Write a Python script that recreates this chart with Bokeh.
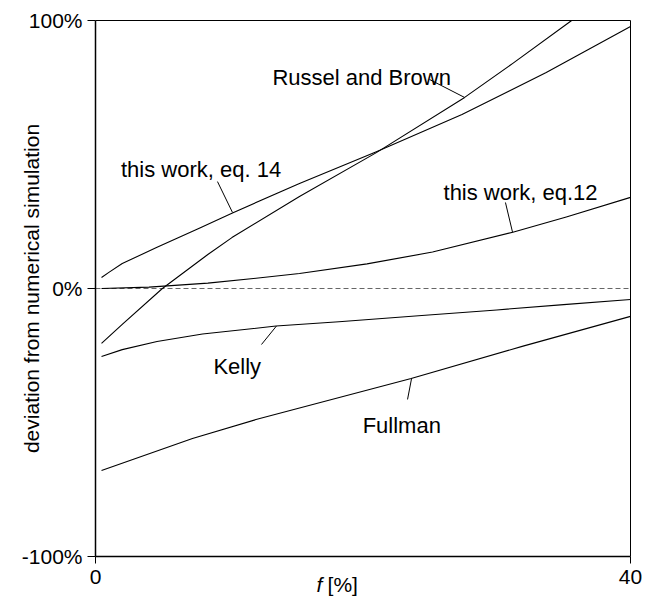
import math
from bokeh.plotting import figure
from bokeh.models import (Range1d, FixedTicker, PrintfTickFormatter, Label, LinearAxis,
                          ColumnDataSource)
from bokeh.embed import file_html
from bokeh.resources import INLINE

# ---- data (f in %, deviation in %) ----
rb_x = [0.45, 2.0, 5.0, 8.4, 10.2, 15.25, 21.0, 27.6, 31.2, 35.6]
rb_y = [-20.5, -13.4, 0.0, 12.7, 19.0, 34.3, 50.7, 71.3, 84.0, 100.0]

eq14_x = [0.45, 1.0, 2.0, 4.56, 7.8, 10.24, 15.25, 21.0, 27.4, 33.7, 40.0]
eq14_y = [4.1, 6.0, 9.3, 15.3, 22.6, 28.2, 39.2, 51.0, 64.9, 80.6, 97.8]

eq12_x = [0.45, 4.0, 8.4, 12.0, 15.25, 20.3, 25.2, 31.2, 35.2, 40.0]
eq12_y = [0.0, 0.5, 2.0, 3.8, 5.6, 9.2, 13.6, 21.0, 26.7, 34.0]

kelly_x = [0.45, 2.0, 4.6, 8.0, 13.5, 18.2, 24.4, 30.0, 35.0, 40.0]
kelly_y = [-25.4, -22.8, -19.8, -17.0, -14.0, -12.4, -10.1, -8.0, -6.0, -4.1]

fullman_x = [0.45, 7.25, 12.0, 23.6, 31.9, 40.0]
fullman_y = [-67.9, -56.0, -48.9, -33.6, -21.6, -10.4]

zero_x = [0, 40]
zero_y = [0, 0]

x_ticks = [0, 40]
y_ticks = [-100, 0, 100]
X_MIN, X_MAX = 0, 40
Y_MIN, Y_MAX = -100, 100

labels = ["Russel and Brown", "this work, eq. 14", "this work, eq.12", "Kelly", "Fullman"]

FONT = "Liberation Sans"
FS = "22px"
TFS = "21px"

# ---- layout: canvas pixels where the plot box sits ----
W, H = 645, 597
BOX_L, BOX_R, BOX_T, BOX_B = 95, 630, 20, 556
sx = (BOX_R - BOX_L) / (X_MAX - X_MIN)
sy = (BOX_B - BOX_T) / (Y_MAX - Y_MIN)
xr = Range1d(X_MIN - BOX_L / sx, X_MAX + (W - BOX_R) / sx)
yr = Range1d(Y_MIN - (H - BOX_B) / sy, Y_MAX + BOX_T / sy)

p = figure(width=W, height=H, output_backend="svg", toolbar_location=None,
           x_range=xr, y_range=yr, title=None, min_border=0,
           x_axis_location=None, y_axis_location=None)
p.grid.visible = False
p.background_fill_color = "white"
p.border_fill_color = "white"
p.outline_line_color = None


def style(ax, width):
    ax.axis_line_color = "black"
    ax.axis_line_width = width
    ax.major_tick_line_color = "black"
    ax.major_tick_line_width = 1
    ax.minor_tick_line_color = None
    ax.major_tick_in = 0
    ax.major_label_text_font = FONT
    ax.major_label_text_font_size = TFS
    ax.major_label_text_color = "black"


xaxis = LinearAxis(fixed_location=Y_MIN, bounds=(X_MIN, X_MAX), ticker=FixedTicker(ticks=x_ticks))
style(xaxis, 1.5)
xaxis.major_tick_out = 7
xaxis.major_label_standoff = 6
p.add_layout(xaxis, "below")

yaxis = LinearAxis(fixed_location=X_MIN, bounds=(Y_MIN, Y_MAX), ticker=FixedTicker(ticks=y_ticks),
                   formatter=PrintfTickFormatter(format="%d%%"))
style(yaxis, 1.5)
yaxis.major_tick_out = 8
yaxis.major_label_standoff = 5
p.add_layout(yaxis, "left")

top = LinearAxis(fixed_location=Y_MAX, bounds=(X_MIN, X_MAX), ticker=FixedTicker(ticks=[]))
style(top, 1)
p.add_layout(top, "above")
right = LinearAxis(fixed_location=X_MAX, bounds=(Y_MIN, Y_MAX), ticker=FixedTicker(ticks=[]))
style(right, 1)
p.add_layout(right, "right")

p.line(zero_x, zero_y, line_color="#666666", line_width=1, line_dash="5 3")

for xs, ys in [(rb_x, rb_y), (eq14_x, eq14_y), (eq12_x, eq12_y),
               (kelly_x, kelly_y), (fullman_x, fullman_y)]:
    p.line(xs, ys, line_color="black", line_width=1.1, line_join="round")

# curve labels (data coords) and pointer lines
lab_x = [19.9, 7.89, 31.78, 10.6, 22.9]
lab_y = [78.7, 44.4, 35.8, -29.1, -51.1]
for t, lx, ly in zip(labels, lab_x, lab_y):
    p.add_layout(Label(x=lx, y=ly, text=t, text_font=FONT, text_font_size=FS,
                       text_align="center", text_baseline="alphabetic", text_color="black"))

ptr = ColumnDataSource(dict(
    x0=[24.97, 9.12, 30.65, 12.41, 23.33],
    y0=[78.0, 39.9, 32.1, -20.9, -41.4],
    x1=[27.59, 10.24, 31.18, 13.53, 23.63],
    y1=[71.3, 28.4, 21.0, -14.0, -33.6],
))
p.segment(x0="x0", y0="y0", x1="x1", y1="y1", source=ptr, line_color="black", line_width=1)

# axis titles
p.add_layout(Label(x=-4.79, y=0, text="deviation from numerical simulation", angle=math.pi / 2,
                   text_font=FONT, text_font_size=TFS, text_align="center",
                   text_baseline="middle", text_color="black"))
p.add_layout(Label(x=16.52, y=-110.4, text="f", text_font=FONT, text_font_size=TFS,
                   text_font_style="italic", text_align="left", text_baseline="alphabetic",
                   text_color="black"))
p.add_layout(Label(x=17.35, y=-110.4, text="[%]", text_font=FONT, text_font_size=TFS,
                   text_align="left", text_baseline="alphabetic", text_color="black"))

open("out.html", "w").write(file_html(p, INLINE))
